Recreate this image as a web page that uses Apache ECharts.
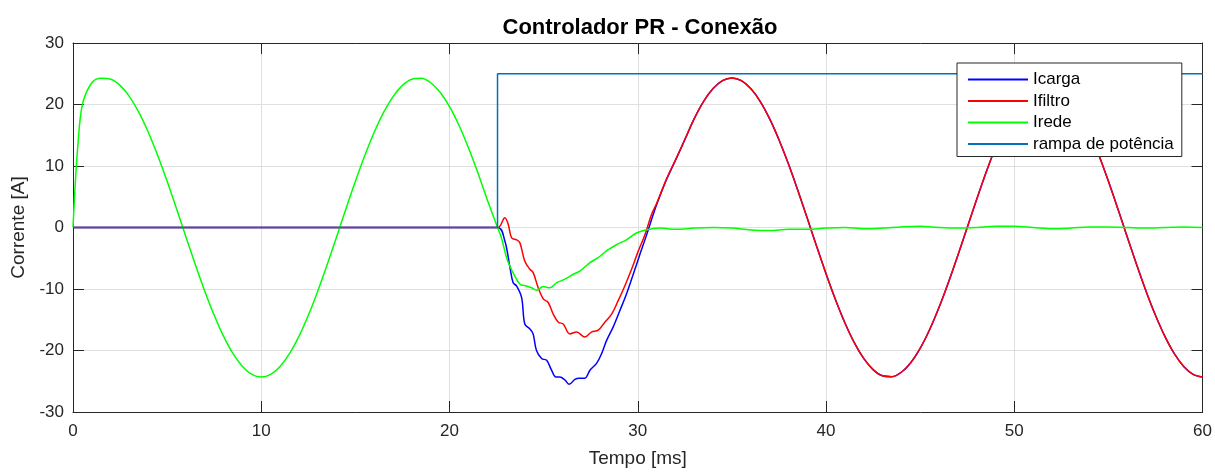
<!DOCTYPE html>
<html>
<head>
<meta charset="utf-8">
<script src="https://cdn.jsdelivr.net/npm/echarts@6/dist/echarts.min.js"></script>
<style>
html,body{margin:0;padding:0;background:#fff;}
#chart{width:1215px;height:473px;}
</style>
</head>
<body>
<div id="chart"></div>
<script>
// ---- data (time in ms, current in A) ----
const titleText = 'Controlador PR - Conexão';
const seriesNames = ['Icarga', 'Ifiltro', 'Irede', 'rampa de potência'];
const xTicks = [0, 10, 20, 30, 40, 50, 60];
const yTicks = [-30, -20, -10, 0, 10, 20, 30];

const icarga = [[0,0],[22.55,0],[22.94,-2.2],[23.21,-6.5],[23.38,-9.0],[23.56,-9.5],[23.83,-11.4],[24.0,-15.7],[24.27,-16.5],[24.44,-17.3],[24.62,-20],[24.89,-21.3],[25.16,-21.6],[25.42,-23.2],[25.65,-24.3],[25.86,-24.3],[26.13,-24.8],[26.36,-25.5],[26.66,-24.7],[26.89,-24.5],[27.19,-24.5],[27.46,-23.2],[27.81,-22.1],[28.08,-20.5],[28.34,-18.4],[28.69,-16.2],[29.05,-13.5],[29.4,-10.8],[29.76,-7.6],[30.11,-4.4],[30.47,-1.2],[30.82,2.1],[31.0,3.7],[31.5,7.6],[32,10.9],[32.5,14.28],[33,17.71],[33.5,20.52],[34,22.59],[34.5,23.87],[35,24.3],[35.5,23.87],[36,22.59],[36.5,20.52],[37,17.71],[37.5,14.28],[38,10.35],[38.5,6.04],[39,1.53],[39.5,-3.05],[40,-7.51],[40.5,-11.71],[41,-15.49],[41.5,-18.72],[42,-21.29],[42.5,-23.11],[43,-24.11],[43.5,-24.25],[44,-23.54],[44.5,-21.99],[45,-19.66],[45.5,-16.63],[46,-13.02],[46.5,-8.94],[47,-4.55],[47.5,0],[48,4.55],[48.5,8.94],[49,13.02],[49.5,16.63],[50,19.66],[50.5,21.99],[51,23.54],[51.5,24.25],[52,24.11],[52.5,23.11],[53,21.29],[53.5,18.72],[54,15.49],[54.5,11.71],[55,7.51],[55.5,3.05],[56,-1.53],[56.5,-6.04],[57,-10.35],[57.5,-14.28],[58,-17.71],[58.5,-20.52],[59,-22.59],[59.5,-23.87],[60,-24.3]];

const ifiltro = [[0,0],[22.55,0],[22.94,1.6],[23.12,0.5],[23.3,-1.7],[23.56,-2.0],[23.74,-2.5],[24.0,-5.5],[24.27,-6.8],[24.44,-7.3],[24.71,-9.8],[24.98,-11.6],[25.24,-12.2],[25.51,-14.1],[25.78,-15.4],[26.04,-15.7],[26.39,-17.3],[26.75,-17.0],[27.19,-17.8],[27.54,-17.0],[27.9,-16.7],[28.25,-15.4],[28.61,-14.1],[28.96,-11.9],[29.31,-9.5],[29.67,-6.8],[30.03,-3.8],[30.38,-1.2],[30.73,2.1],[31.0,3.9],[31.5,7.7],[32,11.0],[32.5,14.3],[33,17.71],[33.5,20.52],[34,22.59],[34.5,23.87],[35,24.3],[35.5,23.87],[36,22.59],[36.5,20.52],[37,17.71],[37.5,14.28],[38,10.35],[38.5,6.04],[39,1.53],[39.5,-3.05],[40,-7.51],[40.5,-11.71],[41,-15.49],[41.5,-18.72],[42,-21.29],[42.5,-23.11],[43,-24.11],[43.5,-24.25],[44,-23.54],[44.5,-21.99],[45,-19.66],[45.5,-16.63],[46,-13.02],[46.5,-8.94],[47,-4.55],[47.5,0],[48,4.55],[48.5,8.94],[49,13.02],[49.5,16.63],[50,19.66],[50.5,21.99],[51,23.54],[51.5,24.25],[52,24.11],[52.5,23.11],[53,21.29],[53.5,18.72],[54,15.49],[54.5,11.71],[55,7.51],[55.5,3.05],[56,-1.53],[56.5,-6.04],[57,-10.35],[57.5,-14.28],[58,-17.71],[58.5,-20.52],[59,-22.59],[59.5,-23.87],[60,-24.3]];

const irede = [[0,0],[0.1,6],[0.25,13],[0.5,20],[1,23.54],[1.5,24.25],[2,24.11],[2.5,23.11],[3,21.29],[3.5,18.72],[4,15.49],[4.5,11.71],[5,7.51],[5.5,3.05],[6,-1.53],[6.5,-6.04],[7,-10.35],[7.5,-14.28],[8,-17.71],[8.5,-20.52],[9,-22.59],[9.5,-23.87],[10,-24.3],[10.5,-23.87],[11,-22.59],[11.5,-20.52],[12,-17.71],[12.5,-14.28],[13,-10.35],[13.5,-6.04],[14,-1.53],[14.5,3.05],[15,7.51],[15.5,11.71],[16,15.49],[16.5,18.72],[17,21.29],[17.5,23.11],[18,24.11],[18.5,24.25],[19,23.54],[19.5,21.99],[20,19.66],[20.5,16.63],[21,13.02],[21.5,8.94],[22,4.55],[22.55,0],[22.76,-1.7],[23.03,-4.9],[23.21,-6.3],[23.47,-7.9],[23.74,-9.2],[24.09,-9.5],[24.36,-9.8],[24.62,-10.2],[24.98,-9.6],[25.33,-9.8],[25.68,-9.0],[26.13,-8.4],[26.57,-7.6],[26.92,-7.1],[27.46,-5.7],[27.9,-4.9],[28.34,-3.8],[28.87,-2.8],[29.4,-2.0],[29.93,-0.9],[30.47,-0.35],[31.17,-0.1],[32,-0.3],[33,-0.1],[34,0],[35,-0.1],[36,-0.4],[37,-0.5],[38,-0.3],[39,-0.3],[40,-0.1],[41,0],[42,-0.2],[43,-0.1],[44,0.1],[45,0.2],[46,0],[47,-0.1],[48,0],[49,0.2],[50,0.2],[51,0],[52,-0.2],[53,-0.1],[54,0.1],[55,0.1],[56,0],[57,-0.1],[58,0],[59,0.1],[60,0]];

const rampa = [[0,0],[22.55,0],[22.55,25],[60,25]];

const colors = ['#0000FF', '#FF0000', '#00FF00', '#0072BD'];

// ---- chart ----
const FONT = 'Liberation Sans, Arial, Helvetica, sans-serif';
const axisColor = '#262626';
const chart = echarts.init(document.getElementById('chart'), null, {renderer: 'canvas'});

const lineSeries = (name, data, color, smooth) => ({
  name: name, type: 'line', data: data, xAxisIndex: 0, yAxisIndex: 0,
  showSymbol: false, symbol: 'none', smooth: smooth,
  lineStyle: {color: color, width: 1.5}, itemStyle: {color: color},
  animation: false, silent: true
});

const option = {
  animation: false,
  backgroundColor: '#ffffff',
  title: {
    text: titleText, left: 635, top: 12, textAlign: 'center',
    textStyle: {fontFamily: FONT, fontSize: 22, fontWeight: 'bold', color: '#000'}
  },
  grid: {left: 73, right: 12, top: 43, bottom: 58, containLabel: false},
  legend: {
    orient: 'vertical', left: 957, top: 63,
    padding: [8, 8, 4, 11], itemGap: 4.5, itemWidth: 60, itemHeight: 2,
    backgroundColor: '#fff', borderColor: '#262626', borderWidth: 1,
    textStyle: {fontFamily: FONT, fontSize: 17, color: '#000'},
    data: seriesNames.map((n, i) => ({name: n, icon: 'rect', itemStyle: {color: colors[i]}}))
  },
  xAxis: [{
    type: 'value', min: xTicks[0], max: xTicks[xTicks.length - 1], interval: 10,
    position: 'bottom',
    name: 'Tempo [ms]', nameLocation: 'middle', nameGap: 37,
    nameTextStyle: {fontFamily: FONT, fontSize: 19, color: axisColor},
    axisLine: {show: true, onZero: false, lineStyle: {color: axisColor, width: 1}},
    axisTick: {show: true, inside: true, length: 11, lineStyle: {color: axisColor}},
    axisLabel: {fontFamily: FONT, fontSize: 17, color: axisColor, margin: 11},
    splitLine: {show: true, lineStyle: {color: '#dfdfdf', width: 1}}
  }, {
    type: 'value', min: xTicks[0], max: xTicks[xTicks.length - 1], interval: 10,
    position: 'top',
    axisLine: {show: true, onZero: false, lineStyle: {color: axisColor, width: 1}},
    axisTick: {show: true, inside: true, length: 11, lineStyle: {color: axisColor}},
    axisLabel: {show: false}, splitLine: {show: false}
  }],
  yAxis: [{
    type: 'value', min: yTicks[0], max: yTicks[yTicks.length - 1], interval: 10,
    position: 'left',
    name: 'Corrente [A]', nameLocation: 'middle', nameGap: 42, nameRotate: 90,
    nameTextStyle: {fontFamily: FONT, fontSize: 19, color: axisColor},
    axisLine: {show: true, onZero: false, lineStyle: {color: axisColor, width: 1}},
    axisTick: {show: true, inside: true, length: 11, lineStyle: {color: axisColor}},
    axisLabel: {fontFamily: FONT, fontSize: 17, color: axisColor, margin: 9},
    splitLine: {show: true, lineStyle: {color: '#dfdfdf', width: 1}}
  }, {
    type: 'value', min: yTicks[0], max: yTicks[yTicks.length - 1], interval: 10,
    position: 'right',
    axisLine: {show: true, onZero: false, lineStyle: {color: axisColor, width: 1}},
    axisTick: {show: true, inside: true, length: 11, lineStyle: {color: axisColor}},
    axisLabel: {show: false}, splitLine: {show: false}
  }],
  series: [
    lineSeries(seriesNames[0], icarga, colors[0], 0.35),
    lineSeries(seriesNames[1], ifiltro, colors[1], 0.35),
    lineSeries(seriesNames[2], irede, colors[2], 0.35),
    lineSeries(seriesNames[3], rampa, colors[3], false)
  ]
};
chart.setOption(option);
</script>
</body>
</html>
